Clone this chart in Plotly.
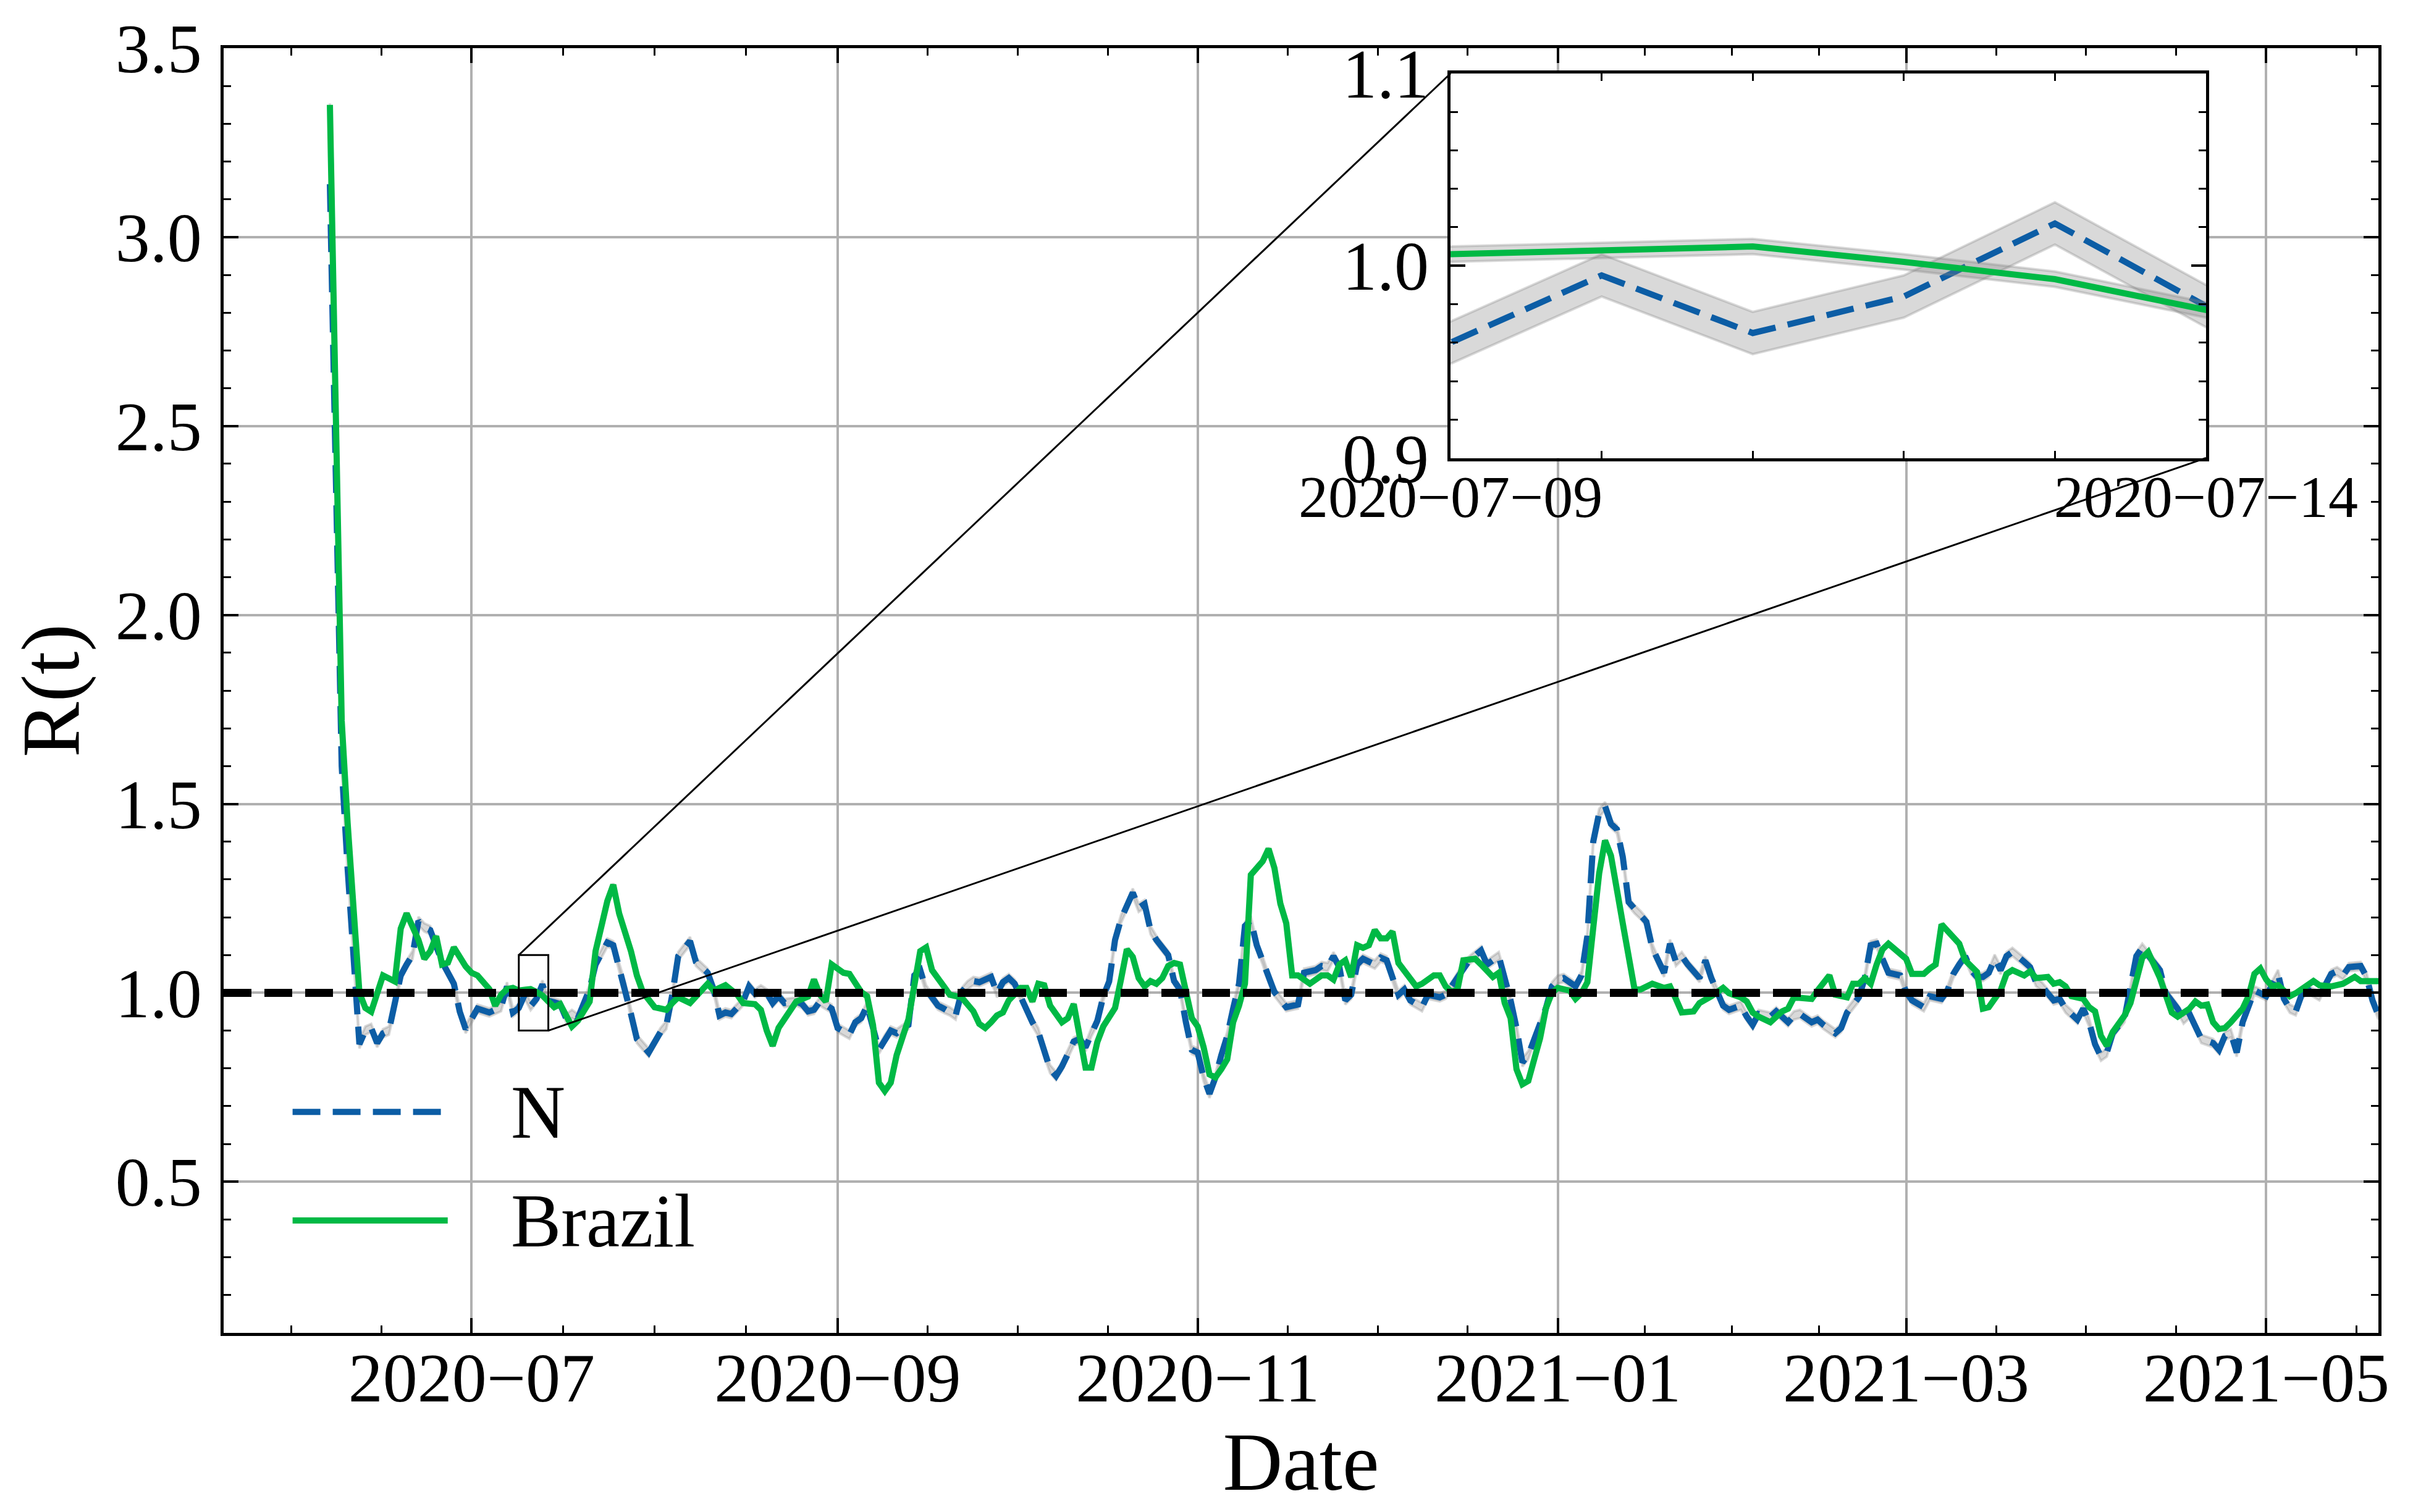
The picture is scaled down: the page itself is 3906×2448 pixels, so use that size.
import pandas as pd
import plotly.graph_objects as go

# day offsets from 2020-07-01 and R(t)
start = pd.Timestamp("2020-07-01")

n_day = [-24, -23, -22, -21, -20, -19, -18, -17, -16, -15, -14, -13, -12, -11, -10, -9, -8, -7, -6, -5,
         -3, -2, -1, 0, 1, 3, 4, 5, 6, 7, 8, 9, 10, 11, 12, 13, 14, 15, 16, 17, 18, 19, 20, 21, 23, 24,
         25, 26, 27, 28, 30, 32, 33, 34, 35, 37, 38, 40, 41, 42, 43, 44, 45, 46, 47, 48, 49, 50, 51, 52,
         53, 55, 56, 57, 58, 59, 61, 62, 64, 65, 66, 67, 69, 70, 71, 72, 74, 75, 76, 77, 79, 80, 81, 82,
         83, 84, 85, 86, 88, 89, 90, 91, 92, 93, 95, 96, 97, 98, 99, 100, 102, 103, 104, 105, 106, 107,
         108, 109, 110, 112, 113, 114, 115, 116, 117, 118, 119, 120, 121, 122, 123, 124, 125, 126, 127,
         128, 129, 130, 131, 132, 133, 134, 135, 136, 138, 140, 141, 143, 144, 145, 146, 147, 148, 149,
         150, 151, 153, 154, 155, 157, 158, 159, 161, 162, 164, 165, 166, 168, 169, 171, 172, 174, 175,
         176, 177, 178, 179, 180, 181, 182, 183, 184, 185, 187, 188, 189, 190, 191, 192, 193, 194, 195,
         196, 197, 198, 199, 200, 201, 202, 203, 204, 205, 206, 208, 209, 210, 211, 212, 213, 215, 216,
         217, 218, 220, 221, 223, 224, 225, 227, 228, 229, 231, 232, 233, 235, 236, 237, 238, 239, 240,
         242, 243, 244, 246, 247, 249, 250, 251, 252, 253, 254, 255, 256, 257, 258, 259, 260, 261, 263,
         264, 265, 266, 268, 269, 270, 272, 273, 274, 275, 276, 277, 278, 280, 281, 282, 283, 284, 286,
         287, 289, 290, 291, 293, 295, 296, 297, 298, 299, 300, 301, 302, 303, 304, 306, 307, 308, 309,
         310, 311, 313, 315, 316, 317, 318, 320, 321, 322, 323]
n_r = [3.14, 2.30, 1.60, 1.33, 1.10, 0.864, 0.90, 0.907, 0.867, 0.893, 0.90, 0.966, 1.046, 1.075, 1.10,
       1.19, 1.173, 1.166, 1.126, 1.082, 1.024, 0.95, 0.904, 0.93, 0.958, 0.948, 0.955, 0.962, 1.017,
       0.948, 0.960, 0.995, 0.965, 0.984, 1.022, 0.979, 0.975, 0.97, 0.933, 0.944, 0.933, 0.97, 1.01,
       1.075, 1.133, 1.126, 1.068, 1.017, 0.944, 0.878, 0.842, 0.896, 0.915, 0.995, 1.097, 1.137, 1.082,
       1.053, 1.009, 0.94, 0.948, 0.944, 0.96, 0.977, 1.017, 0.998, 1.009, 0.999, 0.973, 0.991, 0.973,
       0.977, 0.97, 0.951, 0.955, 0.977, 0.958, 0.907, 0.889, 0.922, 0.933, 0.966, 0.849, 0.878, 0.90,
       0.893, 0.915, 1.046, 1.06, 1.009, 0.966, 0.958, 0.951, 0.94, 1.002, 1.02, 1.031, 1.028, 1.042,
       0.999, 1.028, 1.039, 1.024, 0.988, 0.922, 0.896, 0.842, 0.798, 0.78, 0.805, 0.871, 0.878, 0.856,
       0.896, 0.926, 0.99, 1.03, 1.14, 1.195, 1.265, 1.225, 1.235, 1.166, 1.14, 1.12, 1.10, 1.031, 1.009,
       0.922, 0.849, 0.842, 0.776, 0.733, 0.776, 0.835, 0.886, 0.958, 1.024, 1.177, 1.192, 1.126, 1.086,
       1.039, 1.002, 0.962, 0.969, 1.053, 1.06, 1.071, 1.068, 1.097, 1.068, 0.98, 0.995, 1.075, 1.09,
       1.075, 1.093, 1.086, 0.995, 1.009, 0.98, 0.962, 0.995, 0.988, 0.995, 1.017, 1.068, 1.086, 1.112,
       1.075, 1.097, 1.039, 0.98, 0.907, 0.816, 0.835, 0.878, 0.92, 0.96, 1.017, 1.035, 1.039, 1.017,
       1.046, 1.15, 1.40, 1.476, 1.494, 1.447, 1.433, 1.36, 1.24, 1.221, 1.206, 1.188, 1.119, 1.082,
       1.053, 1.13, 1.082, 1.097, 1.075, 1.039, 1.086, 1.039, 1.002, 0.966, 0.955, 0.966, 0.937, 0.915,
       0.944, 0.937, 0.951, 0.922, 0.94, 0.944, 0.922, 0.929, 0.915, 0.893, 0.907, 0.948, 0.988, 1.039,
       1.126, 1.13, 1.09, 1.053, 1.046, 1.002, 0.98, 0.962, 0.991, 0.984, 1.006, 1.05, 1.075, 1.097,
       1.06, 1.042, 1.042, 1.053, 1.09, 1.06, 1.097, 1.108, 1.082, 1.068, 1.028, 1.017, 0.98, 0.984,
       0.958, 0.929, 0.958, 0.922, 0.864, 0.831, 0.842, 0.893, 0.933, 1.009, 1.097, 1.119, 1.10, 1.06,
       0.999, 0.958, 0.929, 0.944, 0.878, 0.867, 0.849, 0.886, 0.893, 0.842, 0.922, 0.962, 1.006, 0.999,
       0.991, 1.05, 0.984, 0.958, 0.951, 0.995, 1.009, 0.991, 1.05, 1.057, 1.046, 1.068, 1.071, 1.042,
       0.98, 0.94]

brazil_day = [-24, -23, -22, -21, -20, -19, -18, -17, -15, -13, -12, -11, -9, -8, -7, -6, -5, -4, -3, -1,
              0, 1, 3, 4, 5, 6, 7, 8, 9, 10, 11, 12, 13, 14, 15, 17, 18, 20, 21, 23, 24, 25, 26, 27, 28,
              29, 31, 33, 34, 35, 37, 38, 40, 41, 43, 45, 46, 48, 49, 50, 51, 52, 54, 55, 57, 58, 59, 60,
              61, 63, 64, 66, 67, 68, 69, 70, 71, 72, 74, 76, 77, 78, 80, 81, 83, 85, 86, 87, 88, 89, 90,
              91, 93, 94, 95, 96, 97, 98, 100, 101, 102, 103, 104, 105, 106, 107, 109, 110, 111, 112, 113,
              114, 115, 116, 117, 118, 119, 120, 121, 122, 123, 124, 125, 126, 127, 128, 129, 130, 131,
              132, 133, 134, 135, 136, 137, 138, 139, 140, 142, 144, 145, 146, 147, 148, 149, 150, 151,
              152, 153, 154, 155, 156, 157, 158, 159, 160, 161, 163, 164, 165, 166, 167, 168, 170, 171,
              173, 174, 175, 176, 177, 178, 179, 180, 181, 182, 183, 184, 186, 187, 188, 189, 191, 192,
              193, 195, 197, 198, 200, 202, 203, 204, 205, 207, 208, 210, 212, 213, 215, 216, 217, 218,
              220, 222, 223, 224, 227, 228, 230, 231, 233, 234, 235, 236, 237, 238, 239, 240, 242, 243,
              244, 246, 247, 248, 249, 251, 252, 253, 255, 256, 257, 259, 260, 261, 263, 264, 265, 267,
              268, 269, 270, 271, 273, 274, 275, 276, 277, 278, 280, 281, 282, 283, 284, 285, 286, 288,
              289, 291, 292, 293, 294, 295, 296, 297, 298, 300, 301, 302, 303, 304, 305, 306, 308, 309,
              311, 312, 313, 315, 317, 319, 320, 321, 323]
brazil_r = [3.35, 2.55, 1.72, 1.45, 1.23, 1.0, 0.96, 0.95, 1.046, 1.03, 1.17, 1.21, 1.14, 1.09, 1.11, 1.15,
            1.075, 1.08, 1.12, 1.07, 1.053, 1.046, 1.01, 0.966, 0.995, 1.01, 1.013, 1.006, 1.008, 1.010,
            1.002, 0.993, 0.977, 0.962, 0.97, 0.911, 0.926, 0.977, 1.11, 1.243, 1.286, 1.21, 1.16, 1.11,
            1.046, 1.002, 0.962, 0.955, 0.973, 0.988, 0.973, 0.99, 1.024, 1.006, 1.02, 0.995, 0.973, 0.97,
            0.955, 0.90, 0.86, 0.907, 0.955, 0.977, 0.99, 1.035, 0.995, 0.977, 1.075, 1.053, 1.05, 1.002,
            0.991, 0.915, 0.762, 0.74, 0.762, 0.835, 0.93, 1.11, 1.12, 1.06, 1.017, 0.995, 0.988, 0.951,
            0.918, 0.907, 0.922, 0.94, 0.948, 0.98, 1.013, 1.013, 0.977, 1.024, 1.02, 0.966, 0.922, 0.933,
            0.97, 0.886, 0.802, 0.802, 0.87, 0.911, 0.96, 1.035, 1.115, 1.095, 1.039, 1.017, 1.031, 1.024,
            1.039, 1.071, 1.079, 1.075, 1.009, 0.933, 0.911, 0.856, 0.784, 0.776, 0.798, 0.824, 0.922,
            0.966, 1.024, 1.312, 1.33, 1.348, 1.381, 1.33, 1.236, 1.184, 1.046, 1.046, 1.024, 1.046, 1.046,
            1.035, 1.075, 1.086, 1.042, 1.126, 1.119, 1.126, 1.166, 1.144, 1.144, 1.162, 1.079, 1.06,
            1.042, 1.017, 1.024, 1.046, 1.046, 1.017, 1.002, 1.009, 1.086, 1.09, 1.075, 1.042, 1.053,
            0.973, 0.933, 0.798, 0.758, 0.767, 0.824, 0.88, 0.96, 1.0, 1.013, 1.006, 0.984, 0.999, 1.028,
            1.316, 1.403, 1.363, 1.184, 1.009, 1.009, 1.024, 1.013, 1.017, 0.984, 0.948, 0.951, 0.973,
            0.991, 1.013, 0.999, 0.988, 0.977, 0.948, 0.937, 0.922, 0.951, 0.958, 0.988, 0.984, 1.006,
            1.046, 0.995, 0.988, 1.024, 1.024, 1.039, 1.024, 1.075, 1.115, 1.13, 1.104, 1.09, 1.05, 1.05,
            1.064, 1.075, 1.181, 1.148, 1.13, 1.086, 1.055, 0.958, 0.962, 1.006, 1.05, 1.06, 1.046, 1.057,
            1.039, 1.042, 1.024, 1.028, 1.017, 0.991, 0.984, 0.962, 0.951, 0.886, 0.86, 0.896, 0.94, 0.973,
            1.031, 1.093, 1.108, 1.075, 1.039, 0.948, 0.937, 0.958, 0.977, 0.966, 0.969, 0.922, 0.904,
            0.907, 0.922, 0.958, 0.991, 1.05, 1.064, 1.035, 1.017, 1.02, 0.991, 0.999, 1.02, 1.031, 1.02,
            1.017, 1.024, 1.042, 1.031, 1.031, 1.031]

n_ci = 0.011       # half width of the grey band around N
brazil_ci = 0.004  # half width of the grey band around Brazil

x_range = [pd.Timestamp("2020-05-20"), pd.Timestamp("2021-05-20")]
y_range = [0.1, 3.5]
inset_x = [pd.Timestamp("2020-07-09"), pd.Timestamp("2020-07-14")]
inset_y = [0.9, 1.1]
inset_dom_x = [0.5694, 0.92]
inset_dom_y = [0.681, 0.9803]

BLUE = "#0C5DA5"
GREEN = "#00B945"
BAND = "rgba(128,128,128,0.3)"
FONT = "Liberation Serif"

n_x = [start + pd.Timedelta(days=d) for d in n_day]
b_x = [start + pd.Timedelta(days=d) for d in brazil_day]


def band(xs, ys, half, xa, ya):
    up = [v + half for v in ys]
    lo = [v - half for v in ys]
    return go.Scatter(x=xs + xs[::-1], y=up + lo[::-1], fill="toself", fillcolor=BAND,
                      line=dict(color=BAND, width=4), mode="lines", hoverinfo="skip",
                      showlegend=False, xaxis=xa, yaxis=ya)


fig = go.Figure()
for xa, ya in [("x", "y"), ("x2", "y2")]:
    fig.add_trace(band(n_x, n_r, n_ci, xa, ya))
    fig.add_trace(go.Scatter(x=n_x, y=n_r, mode="lines", name="N", showlegend=False,
                             line=dict(color=BLUE, width=10, dash="45px,20px"), xaxis=xa, yaxis=ya))
    fig.add_trace(band(b_x, brazil_r, brazil_ci, xa, ya))
    fig.add_trace(go.Scatter(x=b_x, y=brazil_r, mode="lines", name="Brazil", showlegend=False,
                             line=dict(color=GREEN, width=10), xaxis=xa, yaxis=ya))

# major ticks every two months, minor ticks at quarters in between
majors = pd.date_range("2020-05-01", "2021-07-01", freq="2MS")
minors = []
for a, b in zip(majors[:-1], majors[1:]):
    for q in (1, 2, 3):
        minors.append(a + (b - a) * q / 4)
major_shown = [m for m in majors if x_range[0] <= m <= x_range[1]]
ticktext = [m.strftime("%Y\u2212%m") for m in major_shown]

tick_common = dict(ticks="inside", showline=True, linecolor="black", linewidth=4.5,
                   mirror="allticks", tickcolor="black", tickwidth=4, ticklen=24,
                   zeroline=False, automargin=False)

fig.update_layout(
    width=3906, height=2448,
    margin=dict(l=354, r=64, t=70, b=298),
    paper_bgcolor="white", plot_bgcolor="white",
    font=dict(family=FONT, size=112, color="black"),
    showlegend=False,
    xaxis=dict(range=x_range, tickvals=major_shown, ticktext=ticktext,
               showgrid=True, gridcolor="#b0b0b0", gridwidth=3.5, ticklabelstandoff=-28,
               minor=dict(tickmode="array", tickvals=minors, ticks="inside", ticklen=12,
                          tickwidth=3, tickcolor="black"),
               title=dict(text="Date", standoff=0), **tick_common),
    yaxis=dict(range=y_range, tick0=0.5, dtick=0.5, tickformat=".1f",
               showgrid=True, gridcolor="#b0b0b0", gridwidth=3.5, ticklabelstandoff=8,
               minor=dict(tick0=0.1, dtick=0.1, ticks="inside", ticklen=12,
                          tickwidth=3, tickcolor="black"),
               title=dict(text="R(t)", standoff=40), **tick_common),
    xaxis2=dict(domain=inset_dom_x, anchor="y2", range=inset_x, tickvals=inset_x,
                ticktext=[d.strftime("%Y\u2212%m\u2212%d") for d in inset_x],
                tickfont=dict(size=96), showgrid=False, ticklabelstandoff=-24,
                minor=dict(dtick=86400000, ticks="inside", ticklen=12, tickwidth=3,
                           tickcolor="black"),
                **tick_common),
    yaxis2=dict(domain=inset_dom_y, anchor="x2", range=inset_y, dtick=0.1, tickformat=".1f",
                showgrid=False, ticklabelstandoff=8,
                minor=dict(dtick=0.02, ticks="inside", ticklen=12, tickwidth=3,
                           tickcolor="black"),
                **tick_common),
)

# threshold line R = 1
fig.add_hline(y=1, line=dict(color="black", width=13, dash="45px,21px"), layer="above")

# zoom box and connector lines
fig.add_shape(type="rect", xref="x", yref="y", x0=inset_x[0], x1=inset_x[1],
              y0=inset_y[0], y1=inset_y[1], line=dict(color="black", width=3), layer="above")
span = x_range[1] - x_range[0]
corner_l = x_range[0] + span * inset_dom_x[0]
corner_r = x_range[0] + span * inset_dom_x[1]
yspan = y_range[1] - y_range[0]
corner_t = y_range[0] + yspan * inset_dom_y[1]
corner_b = y_range[0] + yspan * inset_dom_y[0]
fig.add_shape(type="line", xref="x", yref="y", x0=inset_x[0], y0=inset_y[1],
              x1=corner_l, y1=corner_t, line=dict(color="black", width=3), layer="above")
fig.add_shape(type="line", xref="x", yref="y", x0=inset_x[1], y0=inset_y[0],
              x1=corner_r, y1=corner_b, line=dict(color="black", width=3), layer="above")

# hand drawn legend, lower left
legend_items = [("N", BLUE, "45px,20px", 0.172), ("Brazil", GREEN, "solid", 0.0875)]
for label, color, dash, ypos in legend_items:
    fig.add_shape(type="line", xref="paper", yref="paper", x0=0.032, x1=0.104, y0=ypos, y1=ypos,
                  line=dict(color=color, width=10, dash=dash))
    fig.add_annotation(xref="paper", yref="paper", x=0.1327, y=ypos, text=label, showarrow=False,
                       xanchor="left", yanchor="middle", font=dict(size=122))

fig.write_html("out.html")
